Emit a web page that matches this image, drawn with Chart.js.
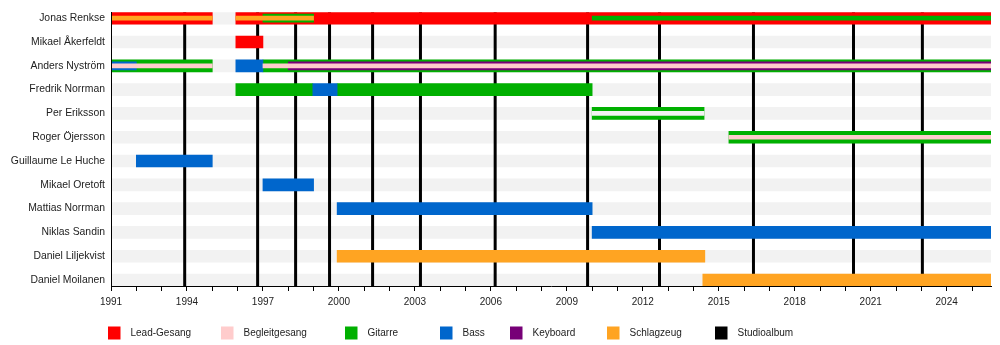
<!DOCTYPE html>
<html>
<head>
<meta charset="utf-8">
<script src="https://cdn.jsdelivr.net/npm/chart.js@4"></script>
<style>
  body { margin: 0; background: #fff; }
  #wrap { width: 1000px; height: 345px; }
</style>
</head>
<body>
<div id="wrap"><canvas id="timeline"></canvas></div>
<script>
// band members, top to bottom
const members = ['Jonas Renkse', 'Mikael Åkerfeldt', 'Anders Nyström', 'Fredrik Norrman', 'Per Eriksson',
  'Roger Öjersson', 'Guillaume Le Huche', 'Mikael Oretoft', 'Mattias Norrman', 'Niklas Sandin',
  'Daniel Liljekvist', 'Daniel Moilanen'];

const startYear = 1991;
const endYear = 2025.75;

// stints: [member, from, to]
const leadVocals = [['Jonas Renkse', 1991, 1995], ['Jonas Renkse', 1995.93, endYear], ['Mikael Åkerfeldt', 1995.93, 1997]];
const guitar = [['Anders Nyström', 1991, 1995], ['Anders Nyström', 1997, endYear], ['Fredrik Norrman', 1995.93, 1998.97],
  ['Fredrik Norrman', 1999.93, 2010], ['Per Eriksson', 2010, 2014.42], ['Roger Öjersson', 2015.4, endYear]];
const bass = [['Anders Nyström', 1995.93, 1997], ['Fredrik Norrman', 1998.97, 1999.93], ['Guillaume Le Huche', 1992, 1995],
  ['Mikael Oretoft', 1997, 1999], ['Mattias Norrman', 1999.93, 2010], ['Niklas Sandin', 2010, endYear]];
const drums = [['Daniel Liljekvist', 1999.93, 2014.45], ['Daniel Moilanen', 2014.37, endYear]];

// second instrument, drawn as a narrower bar inside
const guitarInner = [['Jonas Renkse', 1997, 1999]];
const bassInner = [['Anders Nyström', 1991, 1992]];
const keyboard = [['Anders Nyström', 1998, endYear]];

// thin centre stripes
const drumsStripe = [['Jonas Renkse', 1991, 1995], ['Jonas Renkse', 1995.93, 1999]];
const guitarStripe = [['Jonas Renkse', 2010, endYear]];
const backingVocals = [['Anders Nyström', 1991, 1995], ['Anders Nyström', 1997, endYear], ['Roger Öjersson', 2015.4, endYear]];
const hollowStripe = [['Per Eriksson', 2010, 2014.42]];

const studioAlbums = [1993.91, 1996.79, 1998.29, 1999.63, 2001.33, 2003.22, 2006.17, 2009.82, 2012.66, 2016.37, 2020.32, 2023.04];

const legendLabels = ['Lead-Gesang', 'Begleitgesang', 'Gitarre', 'Bass', 'Keyboard', 'Schlagzeug', 'Studioalbum'];
const legendColors = ['#ff0000', '#ffcccc', '#00b000', '#0066cc', '#770077', '#ffa422', '#000000'];

const FONT = '"Liberation Sans", Arial, sans-serif';
const ROW_BG = '#f2f2f2';

function toPoints(stints) {
  return stints.map(s => ({ y: members.indexOf(s[0]), x: [s[1], s[2]] }));
}

function barLayer(stints, color, thickness) {
  return { type: 'bar', data: toPoints(stints), backgroundColor: color, barThickness: thickness,
    grouped: false, borderWidth: 0 };
}

// drawn bottom first
const layers = [
  barLayer(members.map(m => [m, startYear, endYear]), ROW_BG, 12)
];
studioAlbums.forEach(year => {
  layers.push({ type: 'line', data: [{ x: year, y: -0.25 }, { x: year, y: 11.25 }],
    borderColor: '#000', borderWidth: 3, pointRadius: 0, fill: false });
});
layers.push(
  barLayer(leadVocals, '#ff0000', 12),
  barLayer(guitar, '#00b000', 12),
  barLayer(bass, '#0066cc', 12),
  barLayer(drums, '#ffa422', 12),
  barLayer(guitarInner, '#00b000', 8),
  barLayer(bassInner, '#0066cc', 8),
  barLayer(keyboard, '#770077', 8),
  barLayer(drumsStripe, '#ffa422', 4),
  barLayer(guitarStripe, '#00b000', 4),
  barLayer(backingVocals, '#ffcccc', 4),
  barLayer(hollowStripe, ROW_BG, 4)
);
layers.forEach((ds, i) => { ds.order = layers.length - i; });

// legend below the axis, fixed columns like the original
const legendPlugin = {
  id: 'bottomLegend',
  afterDraw(chart) {
    const ctx = chart.ctx;
    const columns = [108, 221, 345, 440, 510, 607, 715];
    const y = 333;
    ctx.save();
    ctx.font = '10px ' + FONT;
    ctx.textBaseline = 'middle';
    legendLabels.forEach((label, i) => {
      ctx.fillStyle = legendColors[i];
      ctx.fillRect(columns[i], y - 6.5, 12.5, 13);
      ctx.fillStyle = '#222';
      ctx.fillText(label, columns[i] + 22.5, y);
    });
    ctx.restore();
  }
};

new Chart(document.getElementById('timeline'), {
  type: 'bar',
  data: { datasets: layers },
  options: {
    indexAxis: 'y',
    responsive: true,
    maintainAspectRatio: false,
    animation: false,
    layout: { padding: { top: 10, right: 9, left: 0, bottom: 0 } },
    plugins: { legend: { display: false }, tooltip: { enabled: false } },
    scales: {
      x: {
        type: 'linear',
        min: startYear,
        max: endYear,
        afterFit: s => { s.height = 59; },
        border: { display: true, color: '#000', width: 1, z: 1 },
        grid: { drawOnChartArea: false, drawTicks: true, tickLength: 5, color: '#000' },
        ticks: {
          stepSize: 1,
          autoSkip: false,
          includeBounds: false,
          maxRotation: 0,
          padding: 5,
          color: '#222',
          font: { family: FONT, size: 10 },
          callback: v => ((v - startYear) % 3 === 0 ? String(v) : '')
        }
      },
      y: {
        type: 'linear',
        reverse: true,
        offset: false,
        min: -0.25,
        max: 11.25,
        afterFit: s => { s.width = 111; },
        afterBuildTicks: s => { s.ticks = members.map((m, i) => ({ value: i })); },
        border: { display: true, color: '#000', width: 1, z: 1 },
        grid: { display: false, drawTicks: false },
        ticks: {
          autoSkip: false,
          padding: 6,
          color: '#222',
          font: { family: FONT, size: 10.4 },
          callback: v => members[v]
        }
      }
    }
  },
  plugins: [legendPlugin]
});
</script>
</body>
</html>
